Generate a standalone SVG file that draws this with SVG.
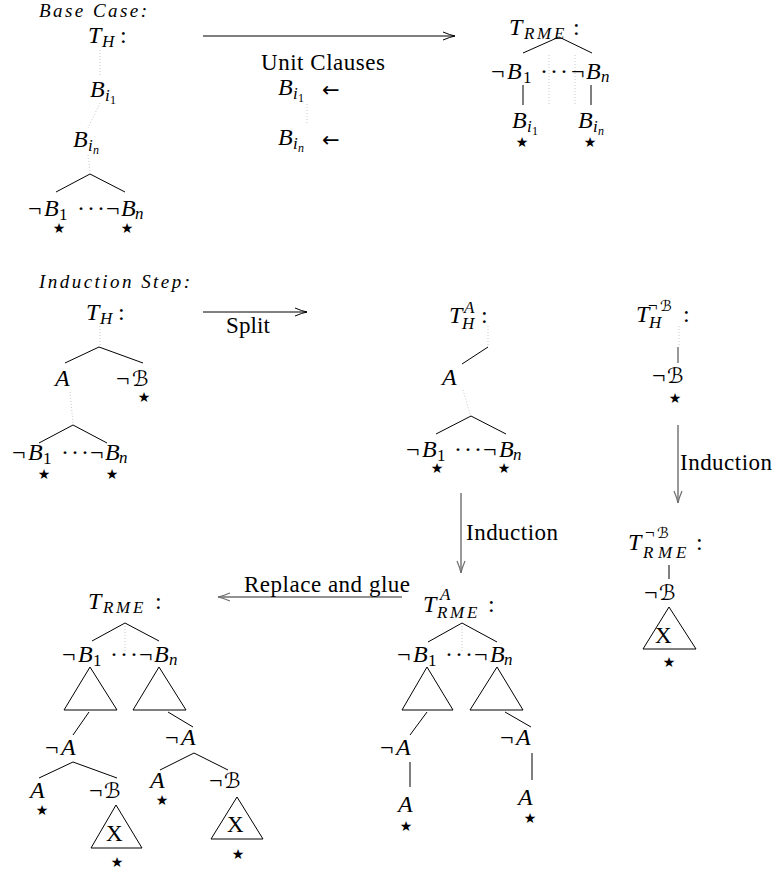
<svg xmlns="http://www.w3.org/2000/svg" width="775" height="872" viewBox="0 0 775 872">
<defs>
<style>
text{font-family:"Liberation Serif","Times New Roman",serif;font-size:24px;fill:#000}
.m{font-style:italic}
.u{font-style:normal}
.s{font-size:17px}
.ss{font-size:12px}
.cal{font-family:"DejaVu Serif","DejaVu Sans",serif;font-style:normal;font-size:21px}
.cal.s{font-size:15px}
.arr{font-family:"DejaVu Sans",sans-serif;font-style:normal;font-size:21px}
.star{font-family:"DejaVu Sans",sans-serif;font-size:14px;text-anchor:middle;font-style:normal}
.hd{font-style:italic;font-size:19px}
.lab{font-size:23px}
.ln{stroke:#000;stroke-width:1;fill:none}
.gl{stroke:#6e6e6e;stroke-width:1.4;fill:none}
.dt{stroke:#c8c8c8;stroke-width:1;stroke-dasharray:1 2;fill:none}
.tri{stroke:#000;stroke-width:1;fill:none}
</style>
<marker id="ab" markerUnits="userSpaceOnUse" markerWidth="16" markerHeight="12" refX="14" refY="6" orient="auto"><path d="M2,2 Q9,5 14,6 Q9,7 2,10" fill="none" stroke="#000" stroke-width="1"/></marker>
<marker id="ag" markerUnits="userSpaceOnUse" markerWidth="16" markerHeight="12" refX="14" refY="6" orient="auto"><path d="M2,2 Q9,5 14,6 Q9,7 2,10" fill="none" stroke="#6e6e6e" stroke-width="1.2"/></marker>
</defs>

<g id="connectors">
  <path class="dt" d="M100,50 L100,76 M100,103 L88,128 M88,155 L90,172"/>
  <path class="ln" d="M90,174 L56,192 M90,174 L125,192"/>
  <path class="dt" d="M307,104 L307,124"/>
  <path class="ln" d="M203,36 L455,36" marker-end="url(#ab)"/>
  <path class="ln" d="M559,37 L523,53 M559,37 L592,53 M523,85 L523,105 M591,85 L591,105"/>
  <path class="dt" d="M549,55 L549,105 M575,55 L575,105"/>
  <path class="dt" d="M100,326 L100,345 M70,392 L73,423"/>
  <path class="ln" d="M99,347 L65,363 M99,347 L143,363 M73,425 L39,443 M73,425 L107,443"/>
  <path class="ln" d="M203,312 L307,312" marker-end="url(#ab)"/>
  <path class="dt" d="M488,326 L488,345 M463,390 L470,414"/>
  <path class="ln" d="M488,347 L462,364 M471,416 L436,434 M471,416 L506,434"/>
  <path class="dt" d="M679,326 L679,345"/>
  <path class="gl" d="M678,347 L678,363"/>
  <path class="gl" d="M678,425 L678,503" marker-end="url(#ag)"/>
  <path class="gl" d="M461,493 L461,573" marker-end="url(#ag)"/>
  <path class="ln" d="M669,565 L669,579"/>
  <path class="gl" d="M402,597 L218,597" marker-end="url(#ag)"/>
  <path class="dt" d="M125,626 L125,652"/>
  <path class="ln" d="M125,623 L92,641 M125,623 L159,641 M89,712 L73,735 M168,712 L193,727 M73,762 L39,778 M73,762 L117,778 M194,753 L160,770 M194,753 L228,770"/>
  <path class="dt" d="M462,626 L462,652"/>
  <path class="ln" d="M462,623 L428,642 M462,623 L497,642 M427,712 L410,735 M505,712 L531,727 M410,762 L410,787 M532,753 L532,780"/>
</g>

<g id="title-base"><text class="hd" x="39" y="17" textLength="108" lengthAdjust="spacing">Base Case:</text></g>
<g id="bc-th"><text class="m" x="88" y="43">T<tspan class="s" x="102" y="47">H</tspan><tspan class="u" x="120" y="43">:</tspan></text></g>
<g id="bc-bi1"><text class="m" x="90" y="97">B<tspan class="s" x="105" y="101">i</tspan><tspan class="ss u" x="110" y="104">1</tspan></text></g>
<g id="bc-bin"><text class="m" x="73" y="147">B<tspan class="s" x="88" y="151">i</tspan><tspan class="ss" x="93" y="154">n</tspan></text></g>
<g id="bc-negs"><text class="m"><tspan class="u" x="28" y="216">¬</tspan><tspan x="44" y="216">B</tspan><tspan class="s u" x="59" y="220">1</tspan><tspan class="u" x="77 87 97" y="216">···</tspan><tspan class="u" x="106" y="216">¬</tspan><tspan x="121" y="216">B</tspan><tspan class="s" x="135" y="219">n</tspan></text>
<text class="star" x="59" y="233">★</text><text class="star" x="127" y="233">★</text></g>

<g id="unit-clauses"><text class="lab" x="261" y="70" textLength="124" lengthAdjust="spacing">Unit Clauses</text></g>
<g id="uc-bi1"><text class="m" x="278" y="95">B<tspan class="s" x="293" y="99">i</tspan><tspan class="ss u" x="298" y="102">1</tspan><tspan class="arr" x="322" y="97">←</tspan></text></g>
<g id="uc-bin"><text class="m" x="278" y="145">B<tspan class="s" x="293" y="149">i</tspan><tspan class="ss" x="298" y="152">n</tspan><tspan class="arr" x="322" y="147">←</tspan></text></g>

<g id="bc-trme"><text class="m" x="509" y="35">T<tspan class="s" x="524 537 554" y="39">RME</tspan><tspan class="u" x="573" y="35">:</tspan></text></g>
<g id="bc-trme-negs"><text class="m"><tspan class="u" x="491" y="79">¬</tspan><tspan x="507" y="79">B</tspan><tspan class="s u" x="523" y="83">1</tspan><tspan class="u" x="540 550 560" y="79">···</tspan><tspan class="u" x="571" y="79">¬</tspan><tspan x="586" y="79">B</tspan><tspan class="s" x="601" y="82">n</tspan></text></g>
<g id="bc-trme-bi1"><text class="m" x="512" y="128">B<tspan class="s" x="527" y="132">i</tspan><tspan class="ss u" x="532" y="135">1</tspan></text><text class="star" x="522" y="147">★</text></g>
<g id="bc-trme-bin"><text class="m" x="578" y="128">B<tspan class="s" x="593" y="132">i</tspan><tspan class="ss" x="598" y="135">n</tspan></text><text class="star" x="590" y="147">★</text></g>

<g id="title-ind"><text class="hd" x="39" y="288" textLength="151" lengthAdjust="spacing">Induction Step:</text></g>
<g id="is-th"><text class="m" x="86" y="320">T<tspan class="s" x="100" y="324">H</tspan><tspan class="u" x="118" y="320">:</tspan></text></g>
<g id="is-a"><text class="m" x="55" y="386">A</text></g>
<g id="is-nb"><text><tspan x="116" y="386">¬</tspan><tspan class="cal" x="132" y="386">ℬ</tspan></text><text class="star" x="144" y="402">★</text></g>
<g id="is-negs"><text class="m"><tspan class="u" x="12" y="460">¬</tspan><tspan x="28" y="460">B</tspan><tspan class="s u" x="43" y="464">1</tspan><tspan class="u" x="61 71 81" y="460">···</tspan><tspan class="u" x="90" y="460">¬</tspan><tspan x="105" y="460">B</tspan><tspan class="s" x="119" y="463">n</tspan></text>
<text class="star" x="44" y="479">★</text><text class="star" x="112" y="479">★</text></g>

<g id="split"><text class="lab" x="226" y="333" textLength="44" lengthAdjust="spacing">Split</text></g>

<g id="tha"><text class="m" x="449" y="323">T<tspan class="s" x="464" y="313">A</tspan><tspan class="s" x="462" y="329">H</tspan><tspan class="u" x="481" y="323">:</tspan></text></g>
<g id="tha-a"><text class="m" x="442" y="385">A</text></g>
<g id="tha-negs"><text class="m"><tspan class="u" x="406" y="457">¬</tspan><tspan x="422" y="457">B</tspan><tspan class="s u" x="437" y="461">1</tspan><tspan class="u" x="454 464 474" y="457">···</tspan><tspan class="u" x="483" y="457">¬</tspan><tspan x="499" y="457">B</tspan><tspan class="s" x="513" y="460">n</tspan></text>
<text class="star" x="437" y="473">★</text><text class="star" x="504" y="473">★</text></g>

<g id="thb"><text class="m" x="636" y="322">T<tspan class="s u" x="648" y="311">¬</tspan><tspan class="s cal" x="660" y="311">ℬ</tspan><tspan class="s" x="649" y="328">H</tspan><tspan class="u" x="683" y="322">:</tspan></text></g>
<g id="thb-nb"><text><tspan x="652" y="383">¬</tspan><tspan class="cal" x="667" y="383">ℬ</tspan></text><text class="star" x="675" y="403">★</text></g>

<g id="ind-right"><text class="lab" x="680" y="470" textLength="92" lengthAdjust="spacing">Induction</text></g>
<g id="ind-mid"><text class="lab" x="466" y="540" textLength="92" lengthAdjust="spacing">Induction</text></g>

<g id="trmeb"><text class="m" x="628" y="550">T<tspan class="s u" x="645" y="538">¬</tspan><tspan class="s cal" x="657" y="538">ℬ</tspan><tspan class="s" x="643 658 676" y="558">RME</tspan><tspan class="u" x="696" y="550">:</tspan></text></g>
<g id="trmeb-nb"><text><tspan x="644" y="600">¬</tspan><tspan class="cal" x="659" y="600">ℬ</tspan></text></g>
<g id="trmeb-x"><path class="tri" d="M669,607 L643,649 L696,649 Z"/><text class="lab" x="655" y="643">X</text><text class="star" x="669" y="667">★</text></g>

<g id="replace"><text class="lab" x="244" y="592" textLength="166" lengthAdjust="spacing">Replace and glue</text></g>

<g id="trme"><text class="m" x="88" y="609">T<tspan class="s" x="103 116 133" y="613">RME</tspan><tspan class="u" x="155" y="609">:</tspan></text></g>
<g id="trme-negs"><text class="m"><tspan class="u" x="62" y="662">¬</tspan><tspan x="78" y="662">B</tspan><tspan class="s u" x="93" y="666">1</tspan><tspan class="u" x="110 120 130" y="662">···</tspan><tspan class="u" x="139" y="662">¬</tspan><tspan x="154" y="662">B</tspan><tspan class="s" x="169" y="665">n</tspan></text></g>
<g id="trme-t1"><path class="tri" d="M90,667 L64,710 L117,710 Z"/></g>
<g id="trme-t2"><path class="tri" d="M159,667 L133,710 L186,710 Z"/></g>
<g id="trme-na1"><text class="m"><tspan class="u" x="45" y="755">¬</tspan><tspan x="61" y="755">A</tspan></text></g>
<g id="trme-a1"><text class="m" x="30" y="798">A</text><text class="star" x="42" y="815">★</text></g>
<g id="trme-nb1"><text><tspan x="89" y="798">¬</tspan><tspan class="cal" x="104" y="798">ℬ</tspan></text></g>
<g id="trme-x1"><path class="tri" d="M116,805 L91,848 L142,848 Z"/><text class="lab" x="106" y="841">X</text><text class="star" x="117" y="867">★</text></g>
<g id="trme-na2"><text class="m"><tspan class="u" x="165" y="745">¬</tspan><tspan x="181" y="745">A</tspan></text></g>
<g id="trme-a2"><text class="m" x="150" y="788">A</text><text class="star" x="162" y="805">★</text></g>
<g id="trme-nb2"><text><tspan x="209" y="788">¬</tspan><tspan class="cal" x="224" y="788">ℬ</tspan></text></g>
<g id="trme-x2"><path class="tri" d="M237,797 L211,839 L263,839 Z"/><text class="lab" x="227" y="832">X</text><text class="star" x="238" y="859">★</text></g>

<g id="trmea"><text class="m" x="423" y="612">T<tspan class="s" x="440" y="600">A</tspan><tspan class="s" x="437 450 467" y="618">RME</tspan><tspan class="u" x="488" y="612">:</tspan></text></g>
<g id="trmea-negs"><text class="m"><tspan class="u" x="397" y="662">¬</tspan><tspan x="413" y="662">B</tspan><tspan class="s u" x="428" y="666">1</tspan><tspan class="u" x="445 455 465" y="662">···</tspan><tspan class="u" x="474" y="662">¬</tspan><tspan x="490" y="662">B</tspan><tspan class="s" x="504" y="665">n</tspan></text></g>
<g id="trmea-t1"><path class="tri" d="M427,667 L402,710 L453,710 Z"/></g>
<g id="trmea-t2"><path class="tri" d="M497,667 L470,710 L523,710 Z"/></g>
<g id="trmea-na1"><text class="m"><tspan class="u" x="380" y="755">¬</tspan><tspan x="396" y="755">A</tspan></text></g>
<g id="trmea-a1"><text class="m" x="398" y="812">A</text><text class="star" x="406" y="831">★</text></g>
<g id="trmea-na2"><text class="m"><tspan class="u" x="500" y="745">¬</tspan><tspan x="516" y="745">A</tspan></text></g>
<g id="trmea-a2"><text class="m" x="518" y="805">A</text><text class="star" x="530" y="823">★</text></g>
</svg>
